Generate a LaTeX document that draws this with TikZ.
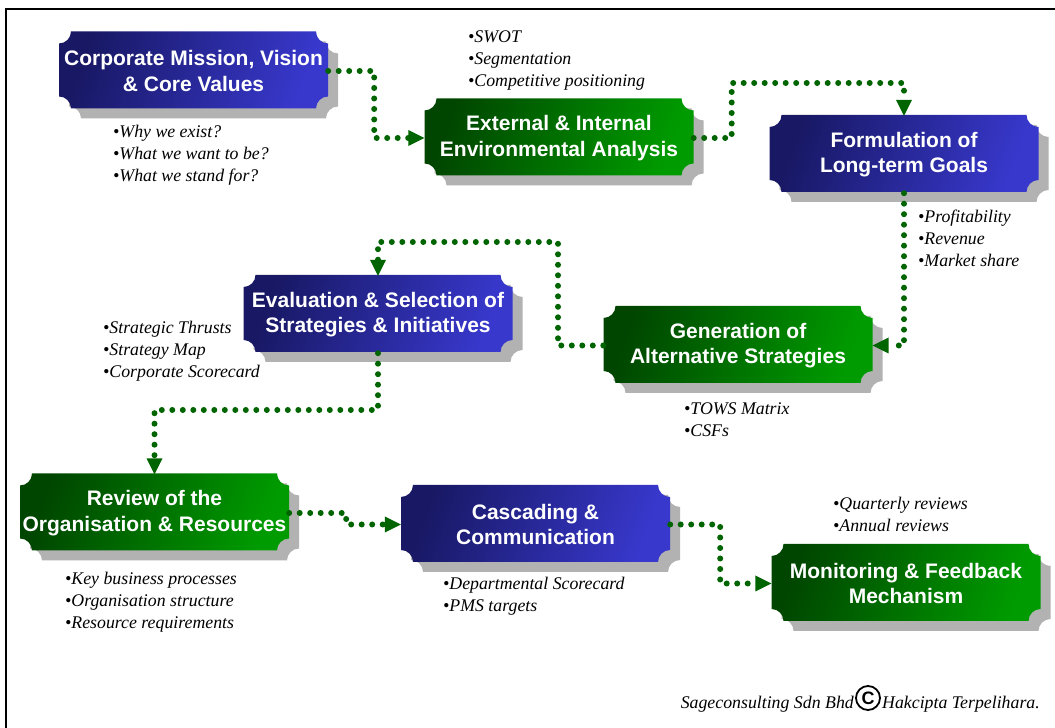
\documentclass[tikz,border=0pt]{standalone}
\usepackage{fontspec}
\setmainfont{Liberation Serif}
\newfontfamily\arialf{Liberation Sans}
\usetikzlibrary{arrows.meta}
\definecolor{navyA}{RGB}{24,24,100}
\definecolor{navyB}{RGB}{56,56,205}
\definecolor{grnA}{RGB}{0,70,0}
\definecolor{grnB}{RGB}{0,155,0}
\definecolor{dotgreen}{RGB}{0,100,0}
\definecolor{shadowgray}{RGB}{178,178,178}
\newcommand\plaqueshape{(-122.5,38.5) -- (122.5,38.5) arc[start angle=180,end angle=270,radius=12] -- (134.5,-26.5) arc[start angle=90,end angle=180,radius=12] -- (-122.5,-38.5) arc[start angle=0,end angle=90,radius=12] -- (-134.5,26.5) arc[start angle=270,end angle=360,radius=12] -- cycle}
\newcommand\pbox[5]{%
  \begin{scope}[shift={(#2,#3)}]
    \fill[shadowgray, shift={(10,-10)}] \plaqueshape;
    \shade[#4] \plaqueshape;
    \node[boxtext] (#1) at (0,-1) {#5};
  \end{scope}}
\begin{document}
\begin{tikzpicture}[x=1pt,y=1pt,
  bluefill/.style={top color=navyA, bottom color=navyB, shading angle=70},
  greenfill/.style={top color=grnA, bottom color=grnB, shading angle=70},
  boxtext/.style={rectangle, minimum width=269pt, minimum height=77pt, inner sep=0pt,
    align=center, text=white, font=\arialf\bfseries\fontsize{21}{25.5}\selectfont},
  conn/.style={draw=dotgreen, line width=6pt, line cap=round, dash pattern=on 0pt off 10.5pt,
    -{Triangle[length=16pt,width=16pt,line width=0pt]}},
  bul/.style={anchor=base west, align=left, inner sep=0pt, font=\itshape\fontsize{17.8}{22}\selectfont},
  foot/.style={inner sep=0pt, font=\itshape\fontsize{17.8}{20}\selectfont},
  copyc/.style={circle, draw, line width=1.8pt, minimum size=24pt, inner sep=0pt,
    font=\arialf\bfseries\fontsize{18}{18}\selectfont}]
\useasboundingbox (0,0) rectangle (1055,728);
\fill[white] (0,0) rectangle (1055,728);
\draw[line width=2.6pt] (6,0) -- (6,719) -- (1055,719);

\pbox{c1}{193.5}{658}{bluefill}{Corporate Mission, Vision\\\& Core Values}
\pbox{c2}{559}{591}{greenfill}{External \& Internal\\Environmental Analysis}
\pbox{c3}{904}{574.5}{bluefill}{Formulation of\\Long-term Goals}
\pbox{c4}{378}{414.5}{bluefill}{Evaluation \& Selection of\\Strategies \& Initiatives}
\pbox{c5}{738}{383.5}{greenfill}{Generation of\\Alternative Strategies}
\pbox{c6}{154.5}{216}{greenfill}{Review of the\\Organisation \& Resources}
\pbox{c7}{535.5}{204.5}{bluefill}{Cascading \&\\Communication}
\pbox{c8}{906}{145.5}{greenfill}{Monitoring \& Feedback\\Mechanism}

\coordinate (k2) at (904,645);
\coordinate (k4) at (558,486);
\coordinate (k5) at (378,318);
\draw[conn] (c1.east) -- ++(46,0) |- (c2.west);
\draw[conn] (c2.east) -- ++(38,0) |- (k2) -- (c3.north);
\draw[conn] (c3.south) |- (c5.east);
\draw[conn] (c5.west) -| (k4) -| (c4.north);
\draw[conn] (c4.south) -- (k5) -| (c6.north);
\draw[conn] (c6.east) -- ++(57,0) |- (c7.west);
\draw[conn] (c7.east) -- ++(50,0) |- (c8.west);

\node[bul] (l1) at (113,546) {•Why we exist?\\•What we want to be?\\•What we stand for?};
\node[bul] (l2) at (468,641) {•SWOT\\•Segmentation\\•Competitive positioning};
\node[bul] (l3) at (918,461) {•Profitability\\•Revenue\\•Market share};
\node[bul] (l4) at (103,350) {•Strategic Thrusts\\•Strategy Map\\•Corporate Scorecard};
\node[bul] (l5) at (684,291) {•TOWS Matrix\\•CSFs};
\node[bul] (l6) at (65,99) {•Key business processes\\•Organisation structure\\•Resource requirements};
\node[bul] (l7) at (443,116) {•Departmental Scorecard\\•PMS targets};
\node[bul] (l8) at (833,196) {•Quarterly reviews\\•Annual reviews};

\node[copyc] (cp) at (868,30) {C};
\node[foot, anchor=base east] (f1) at (854,19) {Sageconsulting Sdn Bhd};
\node[foot, anchor=base west] (f2) at (882,19) {Hakcipta Terpelihara.};
\end{tikzpicture}
\end{document}
